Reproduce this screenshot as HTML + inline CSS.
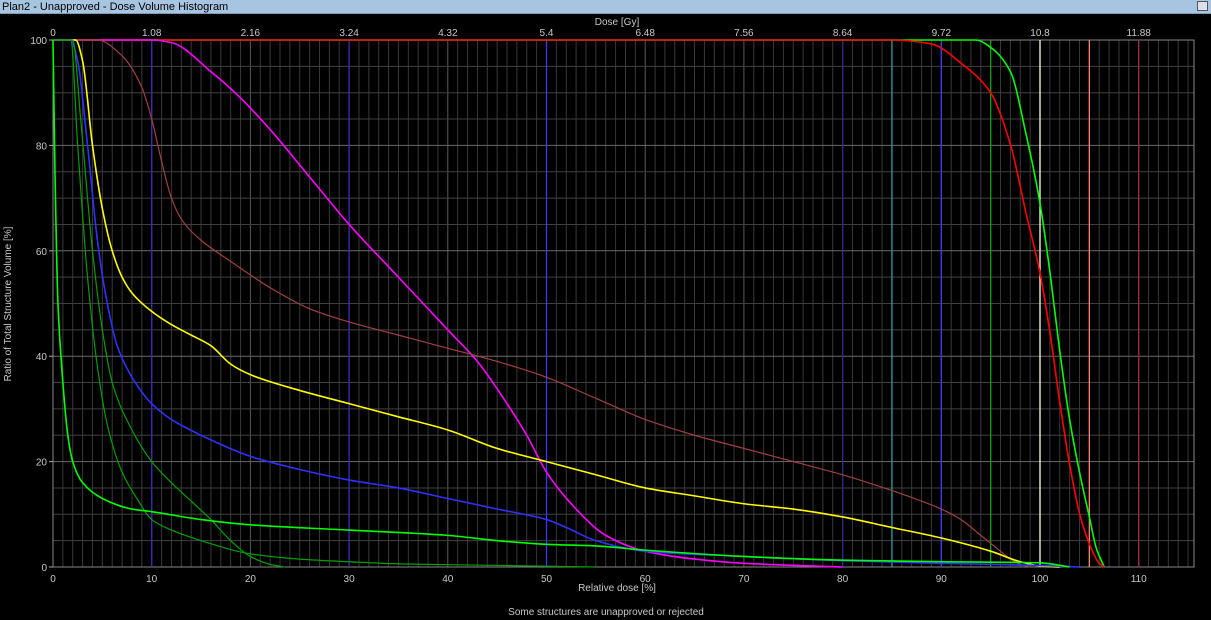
<!DOCTYPE html>
<html><head><meta charset="utf-8"><style>
body{margin:0;background:#000;width:1211px;height:620px;overflow:hidden;font-family:"Liberation Sans",sans-serif}
#title{position:absolute;left:0;top:0;width:1211px;height:14px;background:#a7c4e0;border-bottom:1px solid #7f9db9;font-size:11px;line-height:14px;color:#000;padding-left:2px;box-sizing:border-box}
#restore{position:absolute;right:3px;top:1px;width:11px;height:10px;border:1px solid #555;background:#dde;box-sizing:border-box}
svg{position:absolute;left:0;top:0}
text{font-family:"Liberation Sans",sans-serif;font-size:10px;fill:#c8c8c8}
</style></head><body>
<div id="title">Plan2 - Unapproved - Dose Volume Histogram</div>
<div id="restore"></div>
<svg id="chart" width="1211" height="620"></svg>
<script>
const xTicks=[0,10,20,30,40,50,60,70,80,90,100,110];
const yTicks=[0,20,40,60,80,100];
const doseTicks=["0","1.08","2.16","3.24","4.32","5.4","6.48","7.56","8.64","9.72","10.8","11.88"];
const refLines=[[10,"#3a2ab0"],[30,"#3a2ab0"],[50,"#3a3aff"],[80,"#2a2a90"],[85,"#2aa0a0"],[90,"#3a3aff"],[95,"#10a010"],[100,"#ffffe0"],[105,"#ff8070"],[110,"#a03030"]];
const ptvX=[0,93.5,95,97,98.6,100,101,102,103,104,105,105.7,106.5];
const ptvY=[100,100,98.6,94,82,69,56,41,28,18,9.5,3.6,0];
const redX=[0,85,88.9,92.2,95,97,98.6,100,101,102,103,104,105,106,106.5];
const redY=[100,100,99.3,95.3,90,80.2,67,55.8,44.6,31.3,19.5,10.2,4.4,0.7,0];
const magX=[0,10,12,16,19,22,26,30,35,40,43,46,48,50,53,56,60,65,70,80];
const magY=[100,100,99.5,94,89,83,74,65,55,45,39,31,25,18,11,6,3,1.5,0.7,0];
const brownX=[0,4.5,7,9,10,11,12,13,15,18,22,26,30,35,40,45,50,55,60,65,70,75,80,85,88,90,92,94,96,97,98,99];
const brownY=[100,100,97,91,85,77,70,66,62,58,53,49,46.5,44,41.5,39,36,32,28,25,22.5,20,17.5,14.5,12.5,11,9,6,3,1.5,0.5,0];
const yelX=[0,2.3,3,4,5,6,7,8,10,12,14,16,18,20,25,30,35,40,45,50,55,60,65,70,75,80,85,90,95,98,100,102];
const yelY=[100,100,96,80,68,60,55,52,48.5,46,44,42,38.5,36.5,33.5,31,28.5,26,22.5,20,17.5,15,13.5,12,11,9.5,7.5,5.5,3,1,0.2,0];
const blueX=[0,1.8,2.5,3.5,4.5,5.5,6.5,8,10,12,15,20,25,30,35,40,45,50,52,55,60,70,80,90,100,104];
const blueY=[100,100,96,80,62,50,42,36,31,28,25,21,18.5,16.5,15,13,11,9,7.5,5,3,2,1.2,0.7,0.3,0];
const gAX=[0,2,2.8,4,5,6,8,10,12,14,16,18,20,22,23.5];
const gAY=[100,100,85,60,45,35,26,20,16,12.5,9,5,2,0.5,0];
const gBX=[0,1.8,2.5,3.5,4.5,5.5,7,8.5,10,12,15,20,25,30,35,45,55];
const gBY=[100,100,80,55,38,27,18,13,9,7,5,2.5,1.5,1,0.6,0.3,0];
const lgX=[0,0.2,0.5,1,1.5,2,3,5,8,10,15,20,30,40,45,50,55,60,70,80,90,100,103];
const lgY=[100,75,50,35,25,20,16,13,11,10.5,9,8,7,6,5,4.3,4,3.2,2,1.3,1,0.8,0];
const series=[["ptv-curve",ptvX,ptvY,"#00ff00",1.6],["red-curve",redX,redY,"#ff0000",1.6],["magenta-curve",magX,magY,"#ff00ff",1.6],["brown-curve",brownX,brownY,"#a04040",1.2],["yellow-curve",yelX,yelY,"#ffff00",1.6],["blue-curve",blueX,blueY,"#3030ff",1.6],["green-curve-a",gAX,gAY,"#00a000",1.2],["green-curve-b",gBX,gBY,"#00a000",1.2],["lime-curve",lgX,lgY,"#00ff00",1.6]];
const L=53,R=1194,T=40,B=567;
const sx=v=>L+v*(1040-L)/100, sy=v=>B-v*(B-T)/100;
const svg=document.getElementById('chart');const NS="http://www.w3.org/2000/svg";
function mk(t,a,name){const e=document.createElementNS(NS,t);for(const k in a)e.setAttribute(k,a[k]);


svg.appendChild(e);return e;}
for(let i=0;i<=115;i++){mk('line',{x1:sx(i),x2:sx(i),y1:T,y2:B,stroke:i%10==0?'#5a5a5a':'#383838','stroke-width':1},'x-grid-line');}
for(let v=5;v<100;v+=5){mk('line',{x1:L,x2:R,y1:sy(v),y2:sy(v),stroke:v%20==0?'#6a6a6a':'#404040','stroke-width':1},'y-grid-line');}
mk('rect',{x:L,y:T,width:R-L,height:B-T,fill:'none',stroke:'#888'},'plot-frame');
refLines.forEach(r=>mk('line',{x1:sx(r[0]),x2:sx(r[0]),y1:T,y2:B,stroke:r[1],'stroke-width':1.3},'reference-line'));
function path(xs,ys){const n=xs.length;const px=xs.map(sx),py=ys.map(sy);
const d=[],m=new Array(n).fill(0);
for(let i=0;i<n-1;i++)d.push((py[i+1]-py[i])/(px[i+1]-px[i]));
for(let i=1;i<n-1;i++){if(d[i-1]*d[i]<=0)m[i]=0;else{const h0=px[i]-px[i-1],h1=px[i+1]-px[i];const w1=2*h1+h0,w2=h1+2*h0;m[i]=(w1+w2)/(w1/d[i-1]+w2/d[i]);}}
m[0]=d[0];m[n-1]=d[n-2];
let s=`M${px[0]},${py[0]}`;
for(let i=0;i<n-1;i++){const h=(px[i+1]-px[i])/3;s+=` C${px[i]+h},${py[i]+m[i]*h} ${px[i+1]-h},${py[i+1]-m[i+1]*h} ${px[i+1]},${py[i+1]}`;}
return s;}
series.forEach(s=>mk('path',{d:path(s[1],s[2]),fill:'none',stroke:s[3],'stroke-width':s[4]},s[0]));
xTicks.forEach((v,i)=>{const t=mk('text',{x:sx(v),y:582,'text-anchor':'middle'},'x-tick-label');t.textContent=v;
const u=mk('text',{x:sx(v),y:36,'text-anchor':'middle'},'dose-tick-label');u.textContent=doseTicks[i];});
yTicks.forEach(v=>{const t=mk('text',{x:47,y:sy(v)+4,'text-anchor':'end'},'y-tick-label');t.textContent=v;
mk('line',{x1:49,x2:L,y1:sy(v),y2:sy(v),stroke:'#aaa'},'y-tick');});
let t=mk('text',{x:617,y:591,'text-anchor':'middle'},'x-axis-title');t.textContent='Relative dose [%]';
t=mk('text',{x:617,y:25,'text-anchor':'middle'},'top-axis-title');t.textContent='Dose [Gy]';
t=mk('text',{x:11,y:304,'text-anchor':'middle',transform:'rotate(-90 11 304)'},'y-axis-title');t.textContent='Ratio of Total Structure Volume [%]';
t=mk('text',{x:606,y:615,'text-anchor':'middle'},'status-message');t.textContent='Some structures are unapproved or rejected';
</script>
</body></html>
